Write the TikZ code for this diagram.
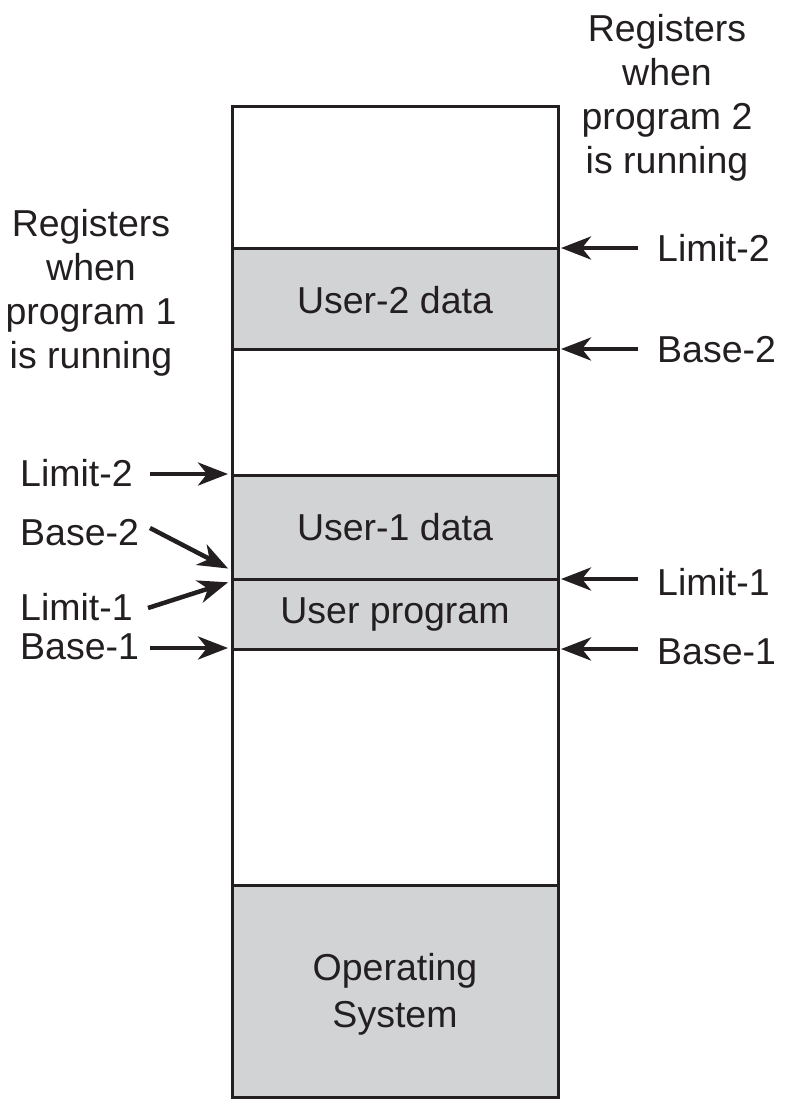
\documentclass[tikz,border=0pt]{standalone}
\usepackage{fontspec}
\setmainfont{Liberation Sans}
\usetikzlibrary{arrows.meta}
\definecolor{fillgray}{RGB}{210,211,213}
\definecolor{ink}{RGB}{35,31,32}
\begin{document}
\begin{tikzpicture}[x=1pt,y=-1pt,
  txt/.style={inner sep=0pt,text=ink,font=\fontsize{37.5}{44}\selectfont},
  ttl/.style={txt,align=center},
  seg/.style={draw=ink,line width=3pt},
  region/.style={fill=fillgray},
  ptr/.style={draw=ink,line width=4.5pt,-{Stealth[length=30pt,width=23pt,inset=9pt]},shorten >=1pt}]
\useasboundingbox (0,0) rectangle (787,1112);
% regions
\fill[region] (232,248) rectangle (558,349);
\fill[region] (232,475) rectangle (558,649);
\fill[region] (232,885) rectangle (558,1097);
% boundary lines
\draw[seg] (232,248) -- (558,248);
\draw[seg] (232,349) -- (558,349);
\draw[seg] (232,475) -- (558,475);
\draw[seg] (232,579) -- (558,579);
\draw[seg] (232,649) -- (558,649);
\draw[seg] (232,885) -- (558,885);
\draw[seg] (232,106) rectangle (558,1097);
% region labels
\node[txt] (u2) at (395,300) {User-2 data};
\node[txt] (u1) at (395,527) {User-1 data};
\node[txt] (up) at (395,614) {User program};
\node[ttl,font=\fontsize{37.5}{47}\selectfont] (os) at (395,994) {Operating\\System};
% titles
\node[ttl] (t2) at (667,98) {Registers\\when\\program 2\\is running};
\node[ttl] (t1) at (91,293) {Registers\\when\\program 1\\is running};
% right side pointers
\coordinate (rL2) at (560,248);
\coordinate (rB2) at (560,349);
\coordinate (rL1) at (560,579);
\coordinate (rB1) at (560,649);
\node[txt,anchor=west] (lr2) at (657,248) {Limit-2};
\node[txt,anchor=west] (br2) at (657,350) {Base-2};
\node[txt,anchor=west] (lr1) at (657,582) {Limit-1};
\node[txt,anchor=west] (br1) at (657,652) {Base-1};
\coordinate (sL2) at (638,248);
\coordinate (sB2) at (638,349);
\coordinate (sL1) at (638,579);
\coordinate (sB1) at (638,649);
\draw[ptr] (sL2) -- (rL2);
\draw[ptr] (sB2) -- (rB2);
\draw[ptr] (sL1) -- (rL1);
\draw[ptr] (sB1) -- (rB1);
% left side pointers
\node[txt,anchor=west] (ll2) at (20,473) {Limit-2};
\node[txt,anchor=west] (bl2) at (20,533) {Base-2};
\node[txt,anchor=west] (ll1) at (20,607) {Limit-1};
\node[txt,anchor=west] (bl1) at (20,647) {Base-1};
\coordinate (aL2) at (150,474);
\coordinate (aB2) at (150,528);
\coordinate (aL1) at (148,608);
\coordinate (aB1) at (150,648);
\coordinate (eL2) at (229,474);
\coordinate (eB2) at (229,569);
\coordinate (eL1) at (229,582);
\coordinate (eB1) at (229,648);
\draw[ptr] (aL2) -- (eL2);
\draw[ptr] (aB2) -- (eB2);
\draw[ptr] (aL1) -- (eL1);
\draw[ptr] (aB1) -- (eB1);
\end{tikzpicture}
\end{document}
